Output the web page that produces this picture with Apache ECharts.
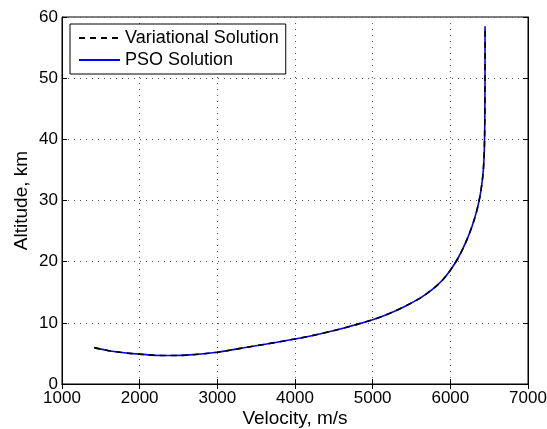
<!DOCTYPE html>
<html>
<head>
<meta charset="utf-8">
<script src="https://cdn.jsdelivr.net/npm/echarts@6/dist/echarts.min.js"></script>
<style>html,body{margin:0;padding:0;background:#fff}#c{width:547px;height:429px}</style>
</head>
<body>
<div id="c"></div>
<script>
var velocity = [1415, 1600, 1800, 2000, 2300, 2600, 3000, 3400, 3800, 4200, 4600, 4800, 5000, 5200, 5400, 5600, 5700, 5800, 5900, 6000, 6100, 6200, 6280, 6340, 6380, 6405, 6425, 6437, 6443, 6446, 6447];
var altitudeVariational = [5.95, 5.45, 5.1, 4.88, 4.65, 4.72, 5.2, 6.05, 6.9, 7.85, 9.05, 9.75, 10.5, 11.45, 12.6, 13.95, 14.8, 15.8, 17.0, 18.6, 20.6, 23.2, 25.8, 28.3, 30.6, 32.6, 35.0, 38.0, 42.0, 48.0, 58.5];
var altitudePSO = [5.95, 5.45, 5.1, 4.88, 4.65, 4.72, 5.2, 6.05, 6.9, 7.85, 9.05, 9.75, 10.5, 11.45, 12.6, 13.95, 14.8, 15.8, 17.0, 18.6, 20.6, 23.2, 25.8, 28.3, 30.6, 32.6, 35.0, 38.0, 42.0, 48.0, 58.5];
var xTicks = [1000, 2000, 3000, 4000, 5000, 6000, 7000];
var yTicks = [0, 10, 20, 30, 40, 50, 60];

function pairs(xs, ys) { return xs.map(function (x, i) { return [x, ys[i]]; }); }

var FONT = 'Liberation Sans, Arial, Helvetica, sans-serif';
var chart = echarts.init(document.getElementById('c'), null, {renderer: 'canvas'});
var gridLine = {show: true, lineStyle: {color: '#555', width: 1, type: [1, 5]}};
chart.setOption({
  animation: false,
  backgroundColor: '#fff',
  grid: {left: 62, right: 19, top: 17, bottom: 45, outerBoundsMode: 'none', containLabel: false,
         show: true, borderColor: '#000', borderWidth: 1, backgroundColor: '#fff'},
  legend: {
    left: 70, top: 24, orient: 'vertical',
    backgroundColor: '#fff', borderColor: '#000', borderWidth: 1, borderRadius: 0,
    padding: [5, 7, 5, 8], itemGap: 4, itemWidth: 41, itemHeight: 14,
    itemStyle: {opacity: 0},
    textStyle: {fontFamily: FONT, fontSize: 18, color: '#000', lineHeight: 18},
    data: ['Variational Solution', 'PSO Solution']
  },
  xAxis: [{
    type: 'value', min: xTicks[0], max: xTicks[xTicks.length - 1], interval: 1000,
    name: 'Velocity, m/s', nameLocation: 'middle', nameGap: 25, nameMoveOverlap: false,
    nameTextStyle: {fontFamily: FONT, fontSize: 19, color: '#000'},
    axisLine: {show: true, lineStyle: {color: '#000', width: 1}},
    axisTick: {show: true, inside: true, length: 5, lineStyle: {color: '#000'}},
    axisLabel: {fontFamily: FONT, fontSize: 17, color: '#000', margin: 6, formatter: function (v) { return String(v); }},
    splitLine: gridLine
  }, {
    type: 'value', position: 'top', min: xTicks[0], max: xTicks[xTicks.length - 1], interval: 1000,
    axisLine: {show: true, lineStyle: {color: '#000'}},
    axisTick: {show: true, inside: true, length: 5, lineStyle: {color: '#000'}},
    axisLabel: {show: false}, splitLine: {show: false}
  }],
  yAxis: [{
    type: 'value', min: yTicks[0], max: yTicks[yTicks.length - 1], interval: 10,
    name: 'Altitude, km', nameLocation: 'middle', nameGap: 31, nameMoveOverlap: false,
    nameTextStyle: {fontFamily: FONT, fontSize: 19, color: '#000'},
    axisLine: {show: true, lineStyle: {color: '#000', width: 1}},
    axisTick: {show: true, inside: true, length: 5, lineStyle: {color: '#000'}},
    axisLabel: {fontFamily: FONT, fontSize: 17, color: '#000', margin: 4},
    splitLine: gridLine
  }, {
    type: 'value', position: 'right', min: yTicks[0], max: yTicks[yTicks.length - 1], interval: 10,
    axisLine: {show: true, lineStyle: {color: '#000'}},
    axisTick: {show: true, inside: true, length: 5, lineStyle: {color: '#000'}},
    axisLabel: {show: false}, splitLine: {show: false}
  }],
  series: [{
    name: 'Variational Solution', type: 'line', data: pairs(velocity, altitudeVariational),
    showSymbol: false, symbol: 'none', smooth: 0.35, z: 4,
    lineStyle: {color: '#000', width: 1.6, type: [6, 5]}, itemStyle: {color: '#000'}
  }, {
    name: 'PSO Solution', type: 'line', data: pairs(velocity, altitudePSO),
    showSymbol: false, symbol: 'none', smooth: 0.35, z: 3,
    lineStyle: {color: '#0000ff', width: 1.6}, itemStyle: {color: '#0000ff'}
  }]
});
</script>
</body>
</html>
